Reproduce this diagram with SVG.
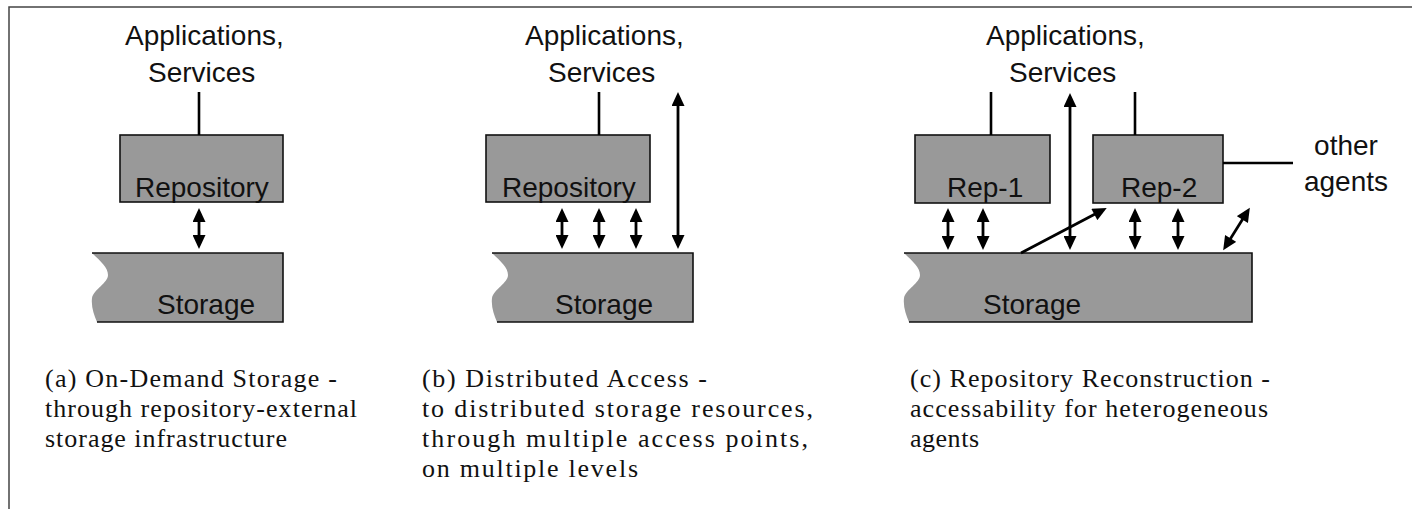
<svg xmlns="http://www.w3.org/2000/svg" width="1412" height="509" viewBox="0 0 1412 509">
<style>
.sans{font-family:"Liberation Sans",Arial,sans-serif;font-size:28px;fill:#111}
.cap{font-family:"Liberation Serif","Times New Roman",serif;font-size:26px;fill:#111}
.box{fill:#999;stroke:#111;stroke-width:1.6}
.stfill{fill:#999;stroke:none}
.stedge{fill:none;stroke:#111;stroke-width:1.6}
.ln{stroke:#000;stroke-width:2.6;fill:none}
.arr{stroke:#000;stroke-width:2.8;fill:none;marker-start:url(#ah);marker-end:url(#ah)}
.arr1{stroke:#000;stroke-width:2.8;fill:none;marker-end:url(#ah)}
.frame{stroke:#444;stroke-width:1.5;fill:none}
</style>
<defs>
<marker id="ah" markerUnits="userSpaceOnUse" markerWidth="15" markerHeight="13" viewBox="0 0 14 13" refX="3" refY="6.5" orient="auto-start-reverse">
<path d="M0,0 L14,6.5 L0,13 Z" fill="#000"/>
</marker>
</defs>
<rect width="1412" height="509" fill="#fff"/>
<path class="frame" d="M9,509 L9,7 L1412,7"/>

<!-- Panel (a) -->
<g id="apps-a">
<text class="sans" x="125" y="45">Applications,</text>
<text class="sans" x="148" y="82">Services</text>
</g>
<g id="repo-a">
<rect class="box" x="120" y="135" width="163" height="67"/>
<text class="sans" x="135" y="197">Repository</text>
</g>
<g id="storage-a">
<path class="stfill" d="M92,253 C100,261 108,267 108,275 C108,283 94,289 92,298 C91,307 94,315 97,322 L283,322 L283,253 Z"/>
<path class="stedge" d="M92,253 L283,253 L283,322 L97,322"/>
<text class="sans" x="157" y="314">Storage</text>
</g>
<g id="caption-a">
<text class="cap" x="45" y="387" textLength="292" lengthAdjust="spacing">(a) On-Demand Storage -</text>
<text class="cap" x="45" y="417" textLength="312" lengthAdjust="spacing">through repository-external</text>
<text class="cap" x="45" y="447" textLength="242" lengthAdjust="spacing">storage infrastructure</text>
</g>

<!-- Panel (b) -->
<g id="apps-b">
<text class="sans" x="525" y="45">Applications,</text>
<text class="sans" x="548" y="82">Services</text>
</g>
<g id="repo-b">
<rect class="box" x="486" y="135" width="164" height="67"/>
<text class="sans" x="502" y="197">Repository</text>
</g>
<g id="storage-b">
<path class="stfill" d="M492,253 C500,261 508,267 508,275 C508,283 494,289 492,298 C491,307 494,315 497,322 L693,322 L693,253 Z"/>
<path class="stedge" d="M492,253 L693,253 L693,322 L497,322"/>
<text class="sans" x="555" y="314">Storage</text>
</g>
<g id="caption-b">
<text class="cap" x="422" y="387" textLength="285" lengthAdjust="spacing">(b) Distributed Access -</text>
<text class="cap" x="422" y="417" textLength="391" lengthAdjust="spacing">to distributed storage resources,</text>
<text class="cap" x="422" y="447" textLength="386" lengthAdjust="spacing">through multiple access points,</text>
<text class="cap" x="422" y="477" textLength="216" lengthAdjust="spacing">on multiple levels</text>
</g>

<!-- Panel (c) -->
<g id="apps-c">
<text class="sans" x="986" y="45">Applications,</text>
<text class="sans" x="1009" y="82">Services</text>
</g>
<g id="rep1">
<rect class="box" x="915" y="135" width="135" height="68"/>
<text class="sans" x="947" y="197">Rep-1</text>
</g>
<g id="rep2">
<rect class="box" x="1093" y="135" width="130" height="68"/>
<text class="sans" x="1121" y="197">Rep-2</text>
</g>
<g id="other-agents">
<text class="sans" x="1346" y="155" text-anchor="middle">other</text>
<text class="sans" x="1346" y="191" text-anchor="middle">agents</text>
</g>
<g id="storage-c">
<path class="stfill" d="M904,253 C912,261 920,267 920,275 C920,283 906,289 904,298 C903,307 906,315 909,322 L1252,322 L1252,253 Z"/>
<path class="stedge" d="M904,253 L1252,253 L1252,322 L909,322"/>
<text class="sans" x="983" y="314">Storage</text>
</g>
<g id="caption-c">
<text class="cap" x="910" y="387" textLength="360" lengthAdjust="spacing">(c) Repository Reconstruction -</text>
<text class="cap" x="910" y="417" textLength="358" lengthAdjust="spacing">accessability for heterogeneous</text>
<text class="cap" x="910" y="447" textLength="69" lengthAdjust="spacing">agents</text>
</g>

<!-- Connectors -->
<g id="connectors">
<line class="ln" x1="199" y1="92" x2="199" y2="135"/>
<line class="arr" x1="199" y1="219" x2="199" y2="238"/>

<line class="ln" x1="599" y1="92" x2="599" y2="135"/>
<line class="arr" x1="562" y1="219" x2="562" y2="238"/>
<line class="arr" x1="599" y1="219" x2="599" y2="238"/>
<line class="arr" x1="636" y1="219" x2="636" y2="238"/>
<line class="arr" x1="678" y1="103" x2="678" y2="238"/>

<line class="ln" x1="991" y1="92" x2="991" y2="135"/>
<line class="ln" x1="1135" y1="92" x2="1135" y2="135"/>
<line class="ln" x1="1223" y1="163" x2="1293" y2="163"/>
<line class="arr" x1="948" y1="219" x2="948" y2="239"/>
<line class="arr" x1="983" y1="219" x2="983" y2="239"/>
<line class="arr" x1="1070" y1="104" x2="1070" y2="239"/>
<line class="arr1" x1="1021" y1="253" x2="1097" y2="213"/>
<line class="arr" x1="1229" y1="241" x2="1244" y2="217"/>
<line class="arr" x1="1135" y1="219" x2="1135" y2="239"/>
<line class="arr" x1="1178" y1="219" x2="1178" y2="239"/>
</g>
</svg>
